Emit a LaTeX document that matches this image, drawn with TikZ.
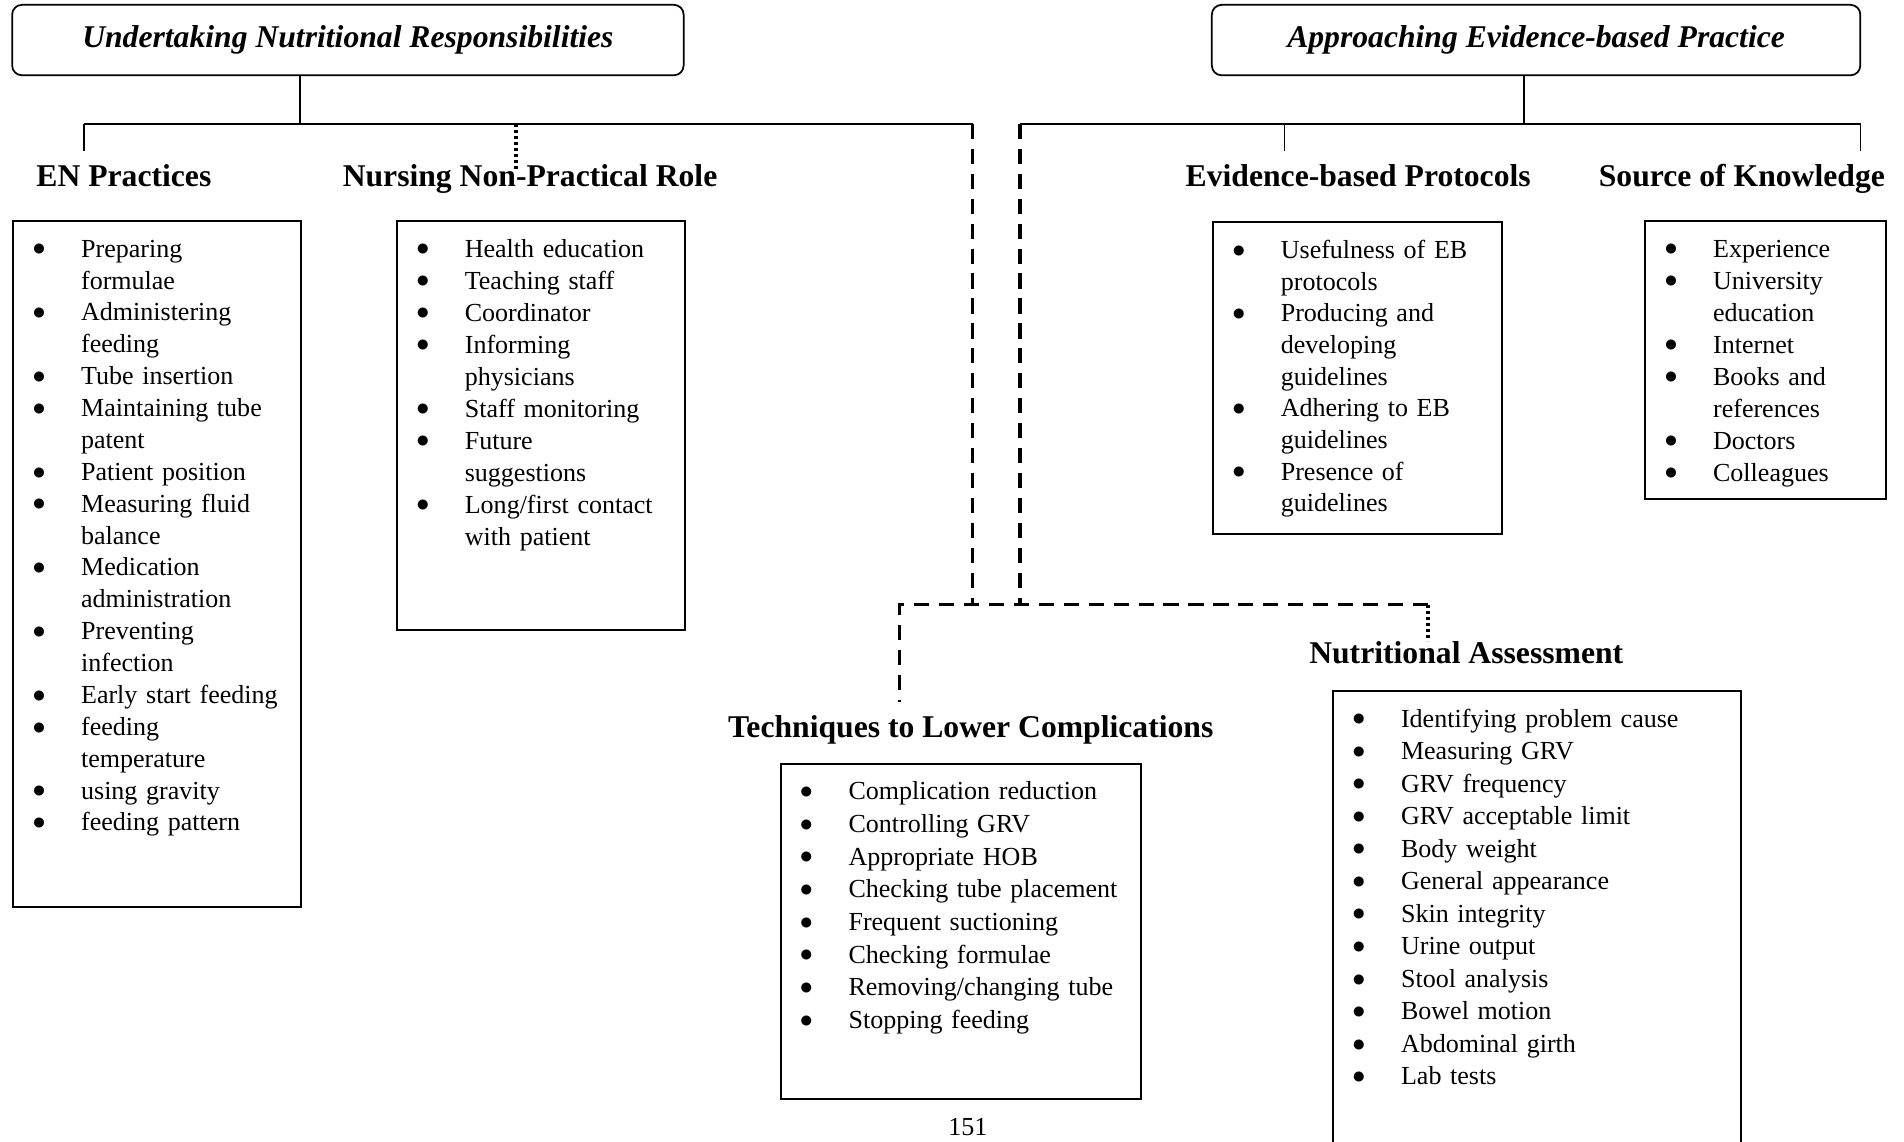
\documentclass[tikz,border=0pt]{standalone}
\usepackage{fontspec}
\setmainfont{Liberation Serif}
\usepackage{tikz}

\newlength{\ux}
\setlength{\ux}{0.56pt}
% one bullet line (hanging bullet in front of the text)
\newcommand{\bul}[1]{\hspace*{-40\ux}\makebox[40\ux][l]{\raisebox{0.6pt}{$\bullet$}}#1\par}
\newcommand{\blist}{\setlength{\leftskip}{56\ux}}

\begin{document}
\begin{tikzpicture}[
x=0.56pt, y=-0.56pt,
titlebox/.style={draw, line width=0.8pt, rounded corners=4.5pt,
  font=\bfseries\itshape\fontsize{14.6}{17}\selectfont},
heading/.style={anchor=base, inner sep=0pt, font=\bfseries\fontsize{14.6}{17}\selectfont},
listbox/.style={draw, line width=0.9pt, anchor=north west, inner sep=0pt,
  align=left, text height=30\ux, font=\fontsize{12}{#1}\selectfont},
listbox/.default=14.8pt,
treeline/.style={line width=0.7pt},
dashline/.style={line width=1.4pt, dash pattern=on 7pt off 4.5pt},
dotline/.style={line width=1.6pt, dash pattern=on 1.4pt off 1.4pt}]
    \useasboundingbox (0,0) rectangle (1568,940);

    % Themes
    \node[titlebox, minimum width=553\ux, minimum height=58\ux] (und) at (286.5,33)
        {Undertaking Nutritional Responsibilities};
    \node[titlebox, minimum width=534\ux, minimum height=58\ux] (aebp) at (1265,33)
        {Approaching Evidence-based Practice};

    % Sub-themes
    \node[heading] (enp) at (102,153.5) {EN Practices};
    \node[heading] (nnpr) at (436.5,153.5) {Nursing Non-Practical Role};
    \node[heading] (ebp) at (1118.5,153.5) {Evidence-based Protocols};
    \node[heading] (sok) at (1434.5,153.5) {Source of Knowledge};
    \node[heading] (nass) at (1207.5,546.5) {Nutritional Assessment};
    \node[heading] (tlc) at (799.5,607.5) {Techniques to Lower Complications};

    % Tree
    \coordinate (ja) at (247,102);
    \coordinate (ba) at (69,102);
    \coordinate (bb) at (801,102);
    \coordinate (dn) at (425,102);
    \coordinate (jb) at (1255,102);
    \coordinate (bc) at (840,102);
    \coordinate (bd) at (1532,102);
    \coordinate (de) at (1058,102);
    \coordinate (ma) at (741,498);
    \coordinate (mb) at (801,498);
    \coordinate (mc) at (840,498);
    \coordinate (md) at (1176,498);

    \draw[treeline] (und.south -| ja) -- (ja);
    \draw[treeline] (ba) -- (bb);
    \draw[treeline] (ba) -- ++(0,22);
    \draw[dotline] (dn) -- ++(0,38);
    \draw[treeline] (aebp.south -| jb) -- (jb);
    \draw[treeline] (bc) -- (bd) -- ++(0,22);
    \draw[treeline] (de) -- ++(0,22);
    \draw[dashline] (bb) -- (mb);
    \draw[dashline] (bc) -- (mc);
    \draw[dashline] (md) -- (ma) -- ++(0,80);
    \draw[dotline] (md) -- ++(0,30);

    % Boxes
    \node[listbox=14.7pt, text width=237\ux, text depth=535\ux] (enlist) at (10,181) {\blist
        \bul{Preparing\\formulae}
        \bul{Administering\\feeding}
        \bul{Tube insertion}
        \bul{Maintaining tube\\patent}
        \bul{Patient position}
        \bul{Measuring fluid\\balance}
        \bul{Medication\\administration}
        \bul{Preventing\\infection}
        \bul{Early start feeding}
        \bul{feeding\\temperature}
        \bul{using gravity}
        \bul{feeding pattern}};
    \node[listbox=14.75pt, text width=237\ux, text depth=307\ux] (nnprlist) at (326,181) {\blist
        \bul{Health education}
        \bul{Teaching staff}
        \bul{Coordinator}
        \bul{Informing\\physicians}
        \bul{Staff monitoring}
        \bul{Future\\suggestions}
        \bul{Long/first contact\\with patient}};
    \node[listbox=14.6pt, text width=238\ux, text depth=227\ux] (ebplist) at (998,182) {\blist
        \bul{Usefulness of EB\\protocols}
        \bul{Producing and\\developing\\guidelines}
        \bul{Adhering to EB\\guidelines}
        \bul{Presence of\\guidelines}};
    \node[listbox=14.75pt, text width=198\ux, text depth=199\ux] (soklist) at (1354,181) {\blist
        \bul{Experience}
        \bul{University\\education}
        \bul{Internet}
        \bul{Books and\\references}
        \bul{Doctors}
        \bul{Colleagues}};
    \node[listbox=15.05pt, text width=297\ux, text depth=246\ux] (tlclist) at (642,628) {\blist
        \bul{Complication reduction}
        \bul{Controlling GRV}
        \bul{Appropriate HOB}
        \bul{Checking tube placement}
        \bul{Frequent suctioning}
        \bul{Checking formulae}
        \bul{Removing/changing tube}
        \bul{Stopping feeding}};
    \node[listbox=15pt, text width=336\ux, text depth=380\ux] (nalist) at (1097,568) {\blist
        \bul{Identifying problem cause}
        \bul{Measuring GRV}
        \bul{GRV frequency}
        \bul{GRV acceptable limit}
        \bul{Body weight}
        \bul{General appearance}
        \bul{Skin integrity}
        \bul{Urine output}
        \bul{Stool analysis}
        \bul{Bowel motion}
        \bul{Abdominal girth}
        \bul{Lab tests}};

    \node[anchor=base, font=\fontsize{12}{14.8}\selectfont] (pgno) at (797,935.5) {151};
\end{tikzpicture}
\end{document}
